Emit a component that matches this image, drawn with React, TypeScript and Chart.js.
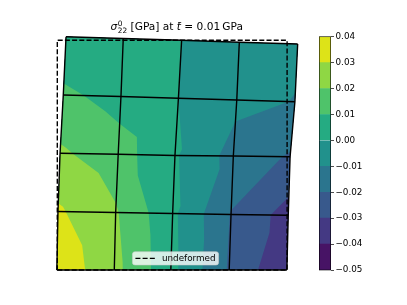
import React, { useEffect, useRef } from "react";
import { Chart, registerables } from "chart.js";

Chart.register(...registerables);

// ---------------- data ----------------
const levels = [-0.05, -0.04, -0.03, -0.02, -0.01, 0.0, 0.01, 0.02, 0.03, 0.04];
const bandColors = [
  "#471365", "#443983", "#38598c", "#2b758e", "#21918c",
  "#25ab82", "#4fc36a", "#8fd744", "#dde318",
];
const colorbarTicks = [-0.05, -0.04, -0.03, -0.02, -0.01, 0.0, 0.01, 0.02, 0.03, 0.04];

// deformed mesh nodes: rows from bottom (j=0) to top (j=4), columns left to right
const nodeX = [
  [-0.002, 0.248, 0.494, 0.748, 0.999],
  [0.003, 0.254, 0.502, 0.756, 1.005],
  [0.012, 0.265, 0.512, 0.766, 1.013],
  [0.026, 0.277, 0.527, 0.781, 1.034],
  [0.038, 0.287, 0.541, 0.792, 1.046],
];
const nodeY = [
  [0, 0, 0, 0, 0],
  [0.2546, 0.2502, 0.2459, 0.2415, 0.238],
  [0.5078, 0.5035, 0.4983, 0.4961, 0.493],
  [0.7615, 0.755, 0.7472, 0.7398, 0.7324],
  [1.0152, 1.0074, 0.9996, 0.9913, 0.9835],
];
// sigma_22 at the nodes [GPa]
const nodeStress = [
  [0.0368, 0.023, 0.003, -0.021, -0.039],
  [0.0314, 0.021, 0.002, -0.0205, -0.0342],
  [0.0215, 0.0145, 0.001, -0.0135, -0.021],
  [0.0122, 0.006, 0.0, -0.0078, -0.01025],
  [0.001, 0.004, 0.0, -0.004, -0.0086],
];
// triangulation of each cell: 1 = bottom-left/top-right diagonal, 0 = top-left/bottom-right
const cellDiagonal = [
  [1, 1, 1, 1],
  [1, 0, 1, 1],
  [1, 1, 1, 1],
  [0, 1, 1, 1],
];
const undeformedX = [0, 1, 1, 0, 0];
const undeformedY = [0, 0, 1, 1, 0];
const undeformedLabel = "undeformed";

// ---------------- layout ----------------
const W = 407;
const H = 305;
const PX_PER_UNIT = 229.8;
const ORIGIN_X = 57.3;
const ORIGIN_Y = 270;
const FAMILY = '"DejaVu Sans", sans-serif';
const TICK_SIZE = 8.8;
const TITLE_SIZE = 10.6;
const TITLE_CX = 176.7;
const TITLE_BASE = 30.3;
const LEGEND_CX = 175.5;
const LEGEND_BOTTOM = 265;
const CB_LEFT = 319;
const CB_WIDTH = 12;
const CB_TOP = 36.7;
const CB_BOTTOM = 270;
const LINE_W = 1.4;
const DASH = [5, 2.2];

type Node = { x: number; y: number; v: number };

function clipAbove(poly: Node[], lev: number): Node[] {
  const out: Node[] = [];
  for (let k = 0; k < poly.length; k++) {
    const a = poly[k];
    const b = poly[(k + 1) % poly.length];
    const ain = a.v >= lev;
    const bin = b.v >= lev;
    if (ain) out.push(a);
    if (ain !== bin) {
      const t = (lev - a.v) / (b.v - a.v);
      out.push({ x: a.x + t * (b.x - a.x), y: a.y + t * (b.y - a.y), v: lev });
    }
  }
  return out;
}

function meshTriangles(): Node[][] {
  const node = (i: number, j: number): Node => ({ x: nodeX[j][i], y: nodeY[j][i], v: nodeStress[j][i] });
  const tris: Node[][] = [];
  for (let j = 0; j < nodeX.length - 1; j++) {
    for (let i = 0; i < nodeX[j].length - 1; i++) {
      const a = node(i, j), b = node(i + 1, j), c = node(i + 1, j + 1), d = node(i, j + 1);
      if (cellDiagonal[j][i]) tris.push([a, b, c], [a, c, d]);
      else tris.push([a, b, d], [b, c, d]);
    }
  }
  return tris;
}

const contourPlugin = {
  id: "contourFill",
  beforeDatasetsDraw(chart: any) {
    const { ctx } = chart;
    const xs = chart.scales.x;
    const ys = chart.scales.y;
    const tris = meshTriangles();
    ctx.save();
    for (let k = 0; k < bandColors.length; k++) {
      ctx.beginPath();
      for (const tri of tris) {
        const poly = clipAbove(tri, levels[k]);
        if (poly.length < 3) continue;
        poly.forEach((p, idx) => {
          const px = xs.getPixelForValue(p.x);
          const py = ys.getPixelForValue(p.y);
          if (idx === 0) ctx.moveTo(px, py);
          else ctx.lineTo(px, py);
        });
        ctx.closePath();
      }
      ctx.fillStyle = bandColors[k];
      ctx.fill("nonzero");
    }
    ctx.restore();
  },
};

const titlePlugin = {
  id: "mathTitle",
  afterDraw(chart: any) {
    const ctx = chart.ctx;
    const F = TITLE_SIZE;
    const S = F * 0.7;
    const reg = `${F}px ${FAMILY}`;
    const ita = `italic ${F}px ${FAMILY}`;
    const small = `${S}px ${FAMILY}`;
    const w = (font: string, s: string) => {
      ctx.font = font;
      return ctx.measureText(s).width;
    };
    const parts = {
      sym: "σ", sup: "0", sub: "22", mid: " [GPa] at ", v: "t", bar: "¯", eq: " = 0.01", unit: "\u2009GPa",
    };
    const scriptW = Math.max(w(small, parts.sup), w(small, parts.sub));
    const total = w(ita, parts.sym) + 0.6 + scriptW + w(reg, parts.mid) + w(ita, parts.v) + w(reg, parts.eq) + w(reg, parts.unit);
    let x = TITLE_CX - total / 2;
    const b = TITLE_BASE;
    ctx.save();
    ctx.fillStyle = "#000";
    ctx.textBaseline = "alphabetic";
    ctx.textAlign = "left";
    ctx.font = ita; ctx.fillText(parts.sym, x, b); x += w(ita, parts.sym) + 0.6;
    ctx.font = small; ctx.fillText(parts.sup, x, b - 4.2); ctx.fillText(parts.sub, x, b + 2.2); x += scriptW;
    ctx.font = reg; ctx.fillText(parts.mid, x, b); x += w(reg, parts.mid);
    const tw = w(ita, parts.v);
    ctx.font = ita; ctx.fillText(parts.v, x, b);
    const bw = w(reg, parts.bar);
    ctx.font = reg; ctx.fillText(parts.bar, x + tw / 2 - bw / 2 + 0.8, b - 0.6);
    x += tw;
    ctx.font = reg; ctx.fillText(parts.eq, x, b); x += w(reg, parts.eq);
    ctx.fillText(parts.unit, x, b);
    ctx.restore();
  },
};

const legendPlugin = {
  id: "innerLegend",
  afterDraw(chart: any) {
    const ds = chart.data.datasets.find((d: any) => d.label);
    if (!ds) return;
    const ctx = chart.ctx;
    ctx.save();
    ctx.font = `${TICK_SIZE}px ${FAMILY}`;
    const tw = ctx.measureText(ds.label).width;
    const pad = 3, handle = 20, gap = 6.5, h = 13.3;
    const wBox = pad + handle + gap + tw + pad;
    const left = LEGEND_CX - wBox / 2;
    const top = LEGEND_BOTTOM - h;
    ctx.beginPath();
    (ctx as any).roundRect(left, top, wBox, h, 2.5);
    ctx.fillStyle = "rgba(255,255,255,0.8)";
    ctx.fill();
    ctx.lineWidth = 0.7;
    ctx.strokeStyle = "rgba(204,204,204,0.8)";
    ctx.stroke();
    const cy = top + h / 2;
    ctx.beginPath();
    ctx.setLineDash(ds.borderDash || []);
    ctx.lineWidth = ds.borderWidth;
    ctx.strokeStyle = ds.borderColor;
    ctx.moveTo(left + pad, cy);
    ctx.lineTo(left + pad + handle, cy);
    ctx.stroke();
    ctx.setLineDash([]);
    ctx.fillStyle = "#000";
    ctx.textBaseline = "middle";
    ctx.textAlign = "left";
    ctx.fillText(ds.label, left + pad + handle + gap, cy);
    ctx.restore();
  },
};

const outlinePlugin = {
  id: "cbOutline",
  afterDatasetsDraw(chart: any) {
    const { ctx, chartArea: a } = chart;
    ctx.save();
    ctx.lineWidth = 0.7;
    ctx.strokeStyle = "rgba(0,0,0,0.85)";
    ctx.strokeRect(a.left + 0.35, a.top, a.right - a.left - 0.7, a.bottom - a.top);
    ctx.restore();
  },
};

function fmtTick(v: number): string {
  if (Math.abs(v) < 1e-9) return "0.00";
  return (v < 0 ? "\u2212" : "") + Math.abs(v).toFixed(2);
}

export default function App() {
  const mainRef = useRef<HTMLCanvasElement | null>(null);
  const cbRef = useRef<HTMLCanvasElement | null>(null);

  useEffect(() => {
    const lineStyle = { showLine: true, borderColor: "#000", borderWidth: LINE_W, pointRadius: 0, fill: false, tension: 0 };
    const rows = nodeX.map((row, j) => ({
      ...lineStyle,
      data: row.map((x, i) => ({ x, y: nodeY[j][i] })),
    }));
    const cols = nodeX[0].map((_, i) => ({
      ...lineStyle,
      data: nodeX.map((row, j) => ({ x: row[i], y: nodeY[j][i] })),
    }));
    const undeformed = {
      ...lineStyle,
      label: undeformedLabel,
      borderDash: DASH,
      data: undeformedX.map((x, k) => ({ x, y: undeformedY[k] })),
    };

    const main = new Chart(mainRef.current!, {
      type: "scatter",
      data: { datasets: [undeformed, ...rows, ...cols] as any },
      options: {
        responsive: false,
        animation: false,
        events: [],
        layout: { padding: 0 },
        plugins: { legend: { display: false }, tooltip: { enabled: false }, title: { display: false } },
        scales: {
          x: { type: "linear", display: false, min: -ORIGIN_X / PX_PER_UNIT, max: (W - ORIGIN_X) / PX_PER_UNIT },
          y: { type: "linear", display: false, min: -(H - ORIGIN_Y) / PX_PER_UNIT, max: ORIGIN_Y / PX_PER_UNIT },
        },
      },
      plugins: [contourPlugin, titlePlugin, legendPlugin],
    });

    const cbW = W - CB_LEFT;
    const cb = new Chart(cbRef.current!, {
      type: "bar",
      data: {
        labels: [""],
        datasets: bandColors.map((c, k) => ({
          data: [[levels[k], levels[k + 1]]],
          backgroundColor: c,
          borderWidth: 0,
          barPercentage: 1,
          categoryPercentage: 1,
          grouped: false,
        })) as any,
      },
      options: {
        responsive: false,
        animation: false,
        events: [],
        layout: { padding: { left: 0, right: 0, top: CB_TOP, bottom: H - CB_BOTTOM } },
        plugins: { legend: { display: false }, tooltip: { enabled: false } },
        scales: {
          x: { display: false },
          y: {
            position: "right",
            min: levels[0],
            max: levels[levels.length - 1],
            afterBuildTicks: (axis: any) => {
              axis.ticks = colorbarTicks.map((value) => ({ value }));
            },
            afterFit: (axis: any) => {
              axis.width = cbW - CB_WIDTH;
            },
            ticks: {
              callback: (v: any) => fmtTick(Number(v)),
              font: { family: FAMILY, size: TICK_SIZE },
              color: "#000",
              padding: 1.5,
              autoSkip: false,
            },
            grid: { drawOnChartArea: false, drawTicks: true, tickLength: 3, color: "#000", lineWidth: 0.7 },
            border: { display: false },
          },
        },
      },
      plugins: [outlinePlugin],
    });

    return () => {
      main.destroy();
      cb.destroy();
    };
  }, []);

  return (
    <div style={{ position: "fixed", left: 0, top: 0, width: W, height: H, background: "#fff" }}>
      <canvas ref={mainRef} width={W} height={H} style={{ position: "absolute", left: 0, top: 0 }} />
      <canvas ref={cbRef} width={W - CB_LEFT} height={H} style={{ position: "absolute", left: CB_LEFT, top: 0 }} />
    </div>
  );
}
